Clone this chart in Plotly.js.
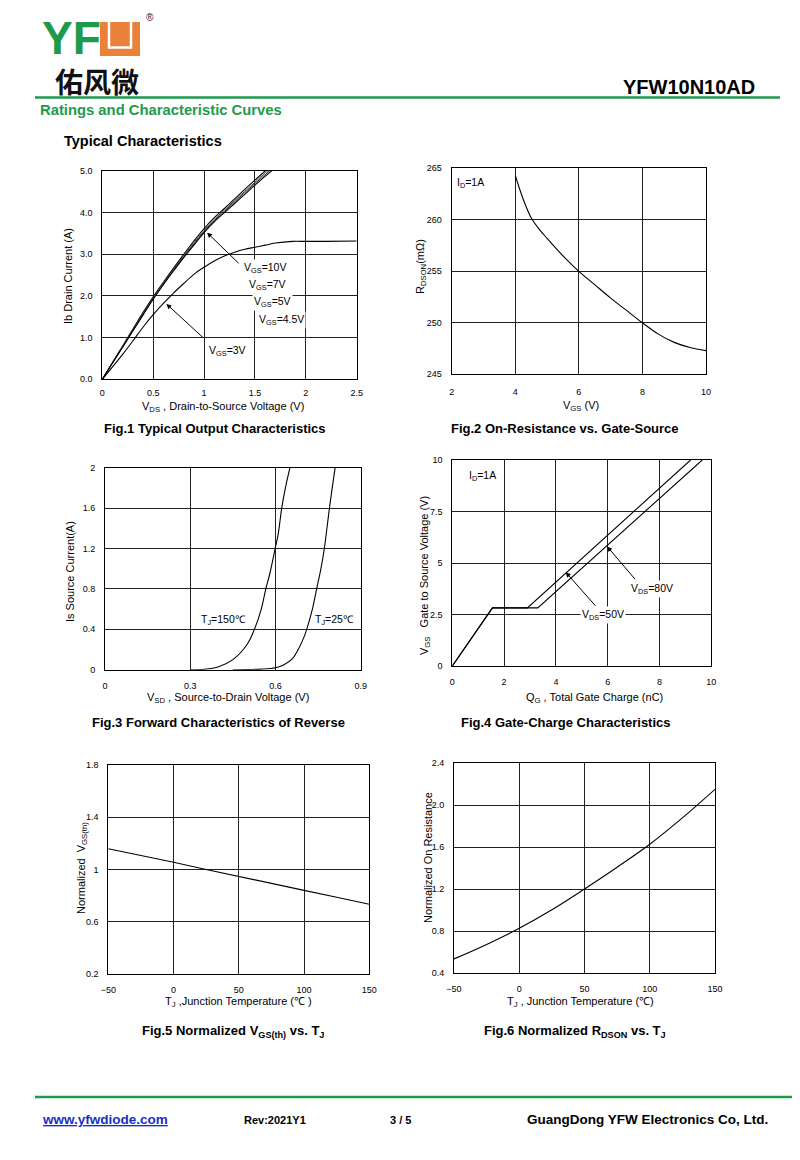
<!DOCTYPE html>
<html>
<head>
<meta charset="utf-8">
<script src="https://cdn.plot.ly/plotly-3.0.1.min.js"></script>
<style>html,body{margin:0;padding:0;background:#fff;}#page{width:800px;height:1160px;}</style>
</head>
<body>
<div id="page"></div>
<script>
// ---------- DATA ----------
// Fig.1 Typical Output Characteristics
const fig1Vds = [0,0.1,0.2,0.3,0.4,0.5,0.6,0.7,0.8,0.9,1.0,1.1,1.2,1.3,1.4,1.5,1.6,1.7];
const fig1Id10 = [0,0.40,0.80,1.20,1.60,1.98,2.33,2.67,3.00,3.32,3.62,3.88,4.10,4.33,4.56,4.78,5.00,5.20];
const fig1Id7  = [0,0.40,0.79,1.19,1.58,1.96,2.31,2.64,2.97,3.28,3.58,3.84,4.06,4.29,4.51,4.73,4.95,5.16];
const fig1Id5  = [0,0.39,0.78,1.17,1.56,1.94,2.29,2.62,2.94,3.25,3.55,3.81,4.03,4.26,4.48,4.70,4.91,5.12];
const fig1Id45 = [0,0.39,0.77,1.16,1.54,1.92,2.27,2.60,2.92,3.22,3.52,3.78,4.00,4.22,4.44,4.66,4.87,5.08];
const fig1Vds3 = [0,0.1,0.2,0.3,0.4,0.5,0.6,0.7,0.8,0.9,1.0,1.1,1.2,1.3,1.4,1.5,1.6,1.7,1.87,2.0,2.2,2.5];
const fig1Id3  = [0,0.30,0.60,0.92,1.25,1.55,1.82,2.07,2.30,2.52,2.69,2.84,2.96,3.05,3.12,3.17,3.22,3.27,3.31,3.31,3.31,3.32];
const fig1XTicks = [0,0.5,1,1.5,2,2.5];
const fig1XLabels = ['0','0.5','1','1.5','2','2.5'];
const fig1YTicks = [0,1,2,3,4,5];
const fig1YLabels = ['0.0','1.0','2.0','3.0','4.0','5.0'];

// Fig.2 On-Resistance vs. Gate-Source
const fig2Vgs = [4,4.25,4.5,4.75,5,5.5,6,6.5,7,7.5,8,8.5,9,9.5,10];
const fig2Rds = [264.3,262.0,260.2,259.1,258.2,256.5,255.0,253.7,252.4,251.2,250.0,248.9,248.1,247.6,247.3];

// Fig.3 Forward Characteristics of Reverse
const fig3Vsd150 = [0.30,0.35,0.40,0.45,0.50,0.526,0.55,0.566,0.58,0.599,0.61,0.622,0.635,0.651];
const fig3Is150  = [0,0.005,0.03,0.10,0.25,0.40,0.60,0.80,0.95,1.20,1.35,1.60,1.80,2.00];
const fig3Vsd25  = [0.45,0.50,0.55,0.60,0.63,0.66,0.68,0.70,0.71,0.73,0.745,0.76,0.772,0.79,0.81];
const fig3Is25   = [0,0.002,0.006,0.02,0.05,0.11,0.20,0.32,0.40,0.60,0.80,1.00,1.20,1.60,2.00];
const fig3XTicks = [0,0.3,0.6,0.9];
const fig3XLabels = ['0','0.3','0.6','0.9'];
const fig3YTicks = [0,0.4,0.8,1.2,1.6,2];

// Fig.4 Gate-Charge Characteristics
const fig4Qg50  = [0,1.55,2.9,9.2];
const fig4Vgs50 = [0,2.82,2.82,10];
const fig4Qg80  = [0,1.55,3.3,9.65];
const fig4Vgs80 = [0,2.82,2.82,10];
const fig4YTicks = [0,2.5,5,7.5,10];

// Fig.5 Normalized VGS(th) vs. TJ
const fig5Tj  = [-50,-25,0,25,50,75,100,125,150];
const fig5Vth = [1.158,1.107,1.054,0.999,0.944,0.891,0.839,0.786,0.732];
const fig5YTicks = [0.2,0.6,1,1.4,1.8];

// Fig.6 Normalized RDSON vs. TJ
const fig6Tj = [-50,-25,0,25,50,75,100,125,150];
const fig6Rn = [0.537,0.675,0.829,1.005,1.203,1.410,1.629,1.880,2.152];
const fig6YTicks = [0.4,0.8,1.2,1.6,2.0,2.4];
const fig6YLabels = ['0.4','0.8','1.2','1.6','2.0','2.4'];
const tempTicks = [-50,0,50,100,150];

// ---------- LAYOUT HELPERS ----------
const F = 'Liberation Sans, Arial, Helvetica, sans-serif';
const W = 800, H = 1160;
const px = x => x / W;
const py = y => 1 - y / H;
const dom = (l, r, t, b) => ({x: [px(l), px(r)], y: [py(b), py(t)]});

const boxes = [
  dom(102.3, 356.7, 171.0, 379.3),
  dom(451.7, 706.0, 168.3, 374.3),
  dom(105.0, 360.7, 467.7, 669.7),
  dom(452.3, 711.3, 460.0, 666.0),
  dom(108.3, 369.3, 765.0, 973.7),
  dom(454.0, 715.0, 763.3, 973.3)
];

function axisBase(extra) {
  return Object.assign({
    showgrid: true, gridcolor: '#222', gridwidth: 1,
    showline: true, linecolor: '#000', linewidth: 1, mirror: true,
    zeroline: false, ticks: '', fixedrange: true,
    tickfont: {family: F, size: 9, color: '#000'}
  }, extra);
}

const lineStyle = {color: '#000', width: 1.1};
const traces = [
  {x: fig1Vds, y: fig1Id10, xaxis: 'x', yaxis: 'y', mode: 'lines', line: Object.assign({shape: 'spline'}, lineStyle), name: 'VGS=10V'},
  {x: fig1Vds, y: fig1Id7, xaxis: 'x', yaxis: 'y', mode: 'lines', line: {shape: 'spline', color: '#444', width: 1}, name: 'VGS=7V'},
  {x: fig1Vds, y: fig1Id5, xaxis: 'x', yaxis: 'y', mode: 'lines', line: {shape: 'spline', color: '#333', width: 1}, name: 'VGS=5V'},
  {x: fig1Vds, y: fig1Id45, xaxis: 'x', yaxis: 'y', mode: 'lines', line: Object.assign({shape: 'spline'}, lineStyle), name: 'VGS=4.5V'},
  {x: fig1Vds3, y: fig1Id3, xaxis: 'x', yaxis: 'y', mode: 'lines', line: Object.assign({shape: 'spline'}, lineStyle), name: 'VGS=3V'},
  {x: fig2Vgs, y: fig2Rds, xaxis: 'x2', yaxis: 'y2', mode: 'lines', line: Object.assign({shape: 'spline'}, lineStyle), name: 'RDSON'},
  {x: fig3Vsd150, y: fig3Is150, xaxis: 'x3', yaxis: 'y3', mode: 'lines', line: Object.assign({shape: 'spline'}, lineStyle), name: 'TJ=150'},
  {x: fig3Vsd25, y: fig3Is25, xaxis: 'x3', yaxis: 'y3', mode: 'lines', line: Object.assign({shape: 'spline'}, lineStyle), name: 'TJ=25'},
  {x: fig4Qg50, y: fig4Vgs50, xaxis: 'x4', yaxis: 'y4', mode: 'lines', line: lineStyle, name: 'VDS=50V'},
  {x: fig4Qg80, y: fig4Vgs80, xaxis: 'x4', yaxis: 'y4', mode: 'lines', line: lineStyle, name: 'VDS=80V'},
  {x: fig5Tj, y: fig5Vth, xaxis: 'x5', yaxis: 'y5', mode: 'lines', line: lineStyle, name: 'VGS(th)'},
  {x: fig6Tj, y: fig6Rn, xaxis: 'x6', yaxis: 'y6', mode: 'lines', line: Object.assign({shape: 'spline'}, lineStyle), name: 'RDSON norm'}
];

const XS = 5, YS = 7;
const layout = {
  width: W, height: H,
  margin: {l: 0, r: 0, t: 0, b: 0},
  paper_bgcolor: '#fff', plot_bgcolor: '#fff',
  showlegend: false,
  font: {family: F, color: '#000'},
  xaxis:  axisBase({domain: boxes[0].x, anchor: 'y',  range: [0, 2.5], tickvals: fig1XTicks, ticktext: fig1XLabels, ticklabelstandoff: XS}),
  yaxis:  axisBase({domain: boxes[0].y, anchor: 'x',  range: [0, 5], tickvals: fig1YTicks, ticktext: fig1YLabels, ticklabelstandoff: YS}),
  xaxis2: axisBase({domain: boxes[1].x, anchor: 'y2', range: [2, 10], dtick: 2, ticklabelstandoff: XS + 4}),
  yaxis2: axisBase({domain: boxes[1].y, anchor: 'x2', range: [245, 265], dtick: 5, ticklabelstandoff: YS}),
  xaxis3: axisBase({domain: boxes[2].x, anchor: 'y3', range: [0, 0.9], tickvals: fig3XTicks, ticktext: fig3XLabels, ticklabelstandoff: XS + 2}),
  yaxis3: axisBase({domain: boxes[2].y, anchor: 'x3', range: [0, 2], tickvals: fig3YTicks, ticklabelstandoff: YS}),
  xaxis4: axisBase({domain: boxes[3].x, anchor: 'y4', range: [0, 10], dtick: 2, ticklabelstandoff: XS + 2}),
  yaxis4: axisBase({domain: boxes[3].y, anchor: 'x4', range: [0, 10], tickvals: fig4YTicks, ticklabelstandoff: YS}),
  xaxis5: axisBase({domain: boxes[4].x, anchor: 'y5', range: [-50, 150], tickvals: tempTicks, ticklabelstandoff: XS + 2}),
  yaxis5: axisBase({domain: boxes[4].y, anchor: 'x5', range: [0.2, 1.8], tickvals: fig5YTicks, ticklabelstandoff: YS}),
  xaxis6: axisBase({domain: boxes[5].x, anchor: 'y6', range: [-50, 150], tickvals: tempTicks, ticklabelstandoff: XS + 2}),
  yaxis6: axisBase({domain: boxes[5].y, anchor: 'x6', range: [0.4, 2.4], tickvals: fig6YTicks, ticktext: fig6YLabels, ticklabelstandoff: YS}),
  shapes: [],
  annotations: []
};

// ---------- PAGE SHAPES ----------
const GREEN = '#1f9a4c';
layout.shapes.push(
  {type: 'line', xref: 'paper', yref: 'paper', x0: px(35), x1: px(780), y0: py(97.5), y1: py(97.5), line: {color: GREEN, width: 2.5}},
  {type: 'line', xref: 'paper', yref: 'paper', x0: px(35), x1: px(792), y0: py(1097), y1: py(1097), line: {color: GREEN, width: 2.5}},
  // orange logo block with white U
  {type: 'rect', xref: 'paper', yref: 'paper', x0: px(100), x1: px(140), y0: py(56), y1: py(22), fillcolor: '#e9813b', line: {width: 0}},
  {type: 'path', xref: 'paper', yref: 'paper',
   path: `M ${px(109)} ${py(22)} L ${px(109)} ${py(47.5)} L ${px(131)} ${py(47.5)} L ${px(131)} ${py(22)}`,
   line: {color: '#fff', width: 2.5}}
);

// ---------- TEXT ----------
const A = layout.annotations;
function txt(text, x, y, o) {
  A.push(Object.assign({xref: 'paper', yref: 'paper', x: px(x), y: py(y), text: text, showarrow: false,
    xanchor: 'center', yanchor: 'middle', font: {family: F, size: 11, color: '#000'}}, o || {}));
}
// header
txt('<b>YF</b>', 40, 38, {xanchor: 'left', font: {family: F, size: 46, color: GREEN}});
txt('®', 150, 18, {font: {family: F, size: 10, color: '#222'}});
txt('<b>佑风微</b>', 97, 81, {font: {family: 'Noto Sans CJK SC, sans-serif', size: 28, color: '#111'}});
txt('<b>YFW10N10AD</b>', 757, 87, {xanchor: 'right', font: {family: F, size: 20, color: '#000'}});
txt('<b>Ratings and Characteristic Curves</b>', 38, 110, {xanchor: 'left', font: {family: F, size: 14.8, color: GREEN}});
txt('<b>Typical Characteristics</b>', 62, 141, {xanchor: 'left', font: {family: F, size: 14.5, color: '#000'}});

// captions
const capFont = {family: F, size: 13, color: '#000'};
txt('<b>Fig.1 Typical Output Characteristics</b>', 215, 429, {font: capFont});
txt('<b>Fig.2 On-Resistance vs. Gate-Source</b>', 565, 429, {font: capFont});
txt('<b>Fig.3 Forward Characteristics of Reverse</b>', 218, 722, {font: capFont});
txt('<b>Fig.4 Gate-Charge Characteristics</b>', 566, 722, {font: capFont});
txt('<b>Fig.5 Normalized V<sub>GS(th)</sub> vs. T<sub>J</sub></b>', 233, 1031, {font: capFont});
txt('<b>Fig.6 Normalized R<sub>DSON</sub> vs. T<sub>J</sub></b>', 575, 1031, {font: capFont});

// axis titles
const atFont = {family: F, size: 11, color: '#000'};
txt('V<sub>DS</sub> , Drain-to-Source Voltage (V)', 223, 407, {font: atFont});
txt('Ib Drain Current (A)', 68, 276, {textangle: -90, font: atFont});
txt('V<sub>GS</sub> (V)', 581, 406, {font: atFont});
txt('R<sub>DSON</sub>(mΩ)', 421, 267, {textangle: -90, font: atFont});
txt('V<sub>SD</sub> , Source-to-Drain Voltage (V)', 228, 698, {font: atFont});
txt('Is Source Current(A)', 70, 572, {textangle: -90, font: atFont});
txt('Q<sub>G</sub> , Total Gate Charge (nC)', 594, 698, {font: atFont});
txt('V<sub>GS</sub>   Gate to Source Voltage (V)', 425, 576, {textangle: -90, font: atFont});
txt('T<sub>J</sub> ,Junction Temperature (℃ )', 238, 1002, {font: atFont});
txt('Normalized  V<sub>GS(th)</sub>', 82, 868, {textangle: -90, font: atFont});
txt('T<sub>J</sub> , Junction Temperature (℃)', 580, 1002, {font: atFont});
txt('Normalized On Resistance', 428, 858, {textangle: -90, font: atFont});

// in-plot labels
const lbFont = {family: F, size: 10.5, color: '#000'};
const lbl = (t, x, y, o) => txt(t, x, y, Object.assign({xanchor: 'left', font: lbFont}, o || {}));
lbl('V<sub>GS</sub>=10V', 242, 268, {bgcolor: '#fff'});
lbl('V<sub>GS</sub>=7V', 247, 285, {bgcolor: '#fff'});
lbl('V<sub>GS</sub>=5V', 252, 302, {bgcolor: '#fff'});
lbl('V<sub>GS</sub>=4.5V', 257, 320, {bgcolor: '#fff'});
lbl('V<sub>GS</sub>=3V', 207, 351, {bgcolor: '#fff'});
lbl('I<sub>D</sub>=1A', 455, 183);
lbl('T<sub>J</sub>=150℃', 199, 620, {bgcolor: '#fff'});
lbl('T<sub>J</sub>=25℃', 313, 620, {bgcolor: '#fff'});
lbl('I<sub>D</sub>=1A', 467, 476);
lbl('V<sub>DS</sub>=80V', 629, 589, {bgcolor: '#fff'});
lbl('V<sub>DS</sub>=50V', 580, 615, {bgcolor: '#fff'});

// arrows (head on the curve, in data coordinates)
function arrow(xr, yr, x, y, ax, ay) {
  A.push({xref: xr, yref: yr, x: x, y: y, ax: ax, ay: ay, text: '', showarrow: true,
    arrowhead: 2, arrowsize: 1, arrowwidth: 1, arrowcolor: '#000'});
}
arrow('x', 'y', 1.03, 3.52, 33, 32);
arrow('x', 'y', 0.63, 1.81, 38, 35);
arrow('x4', 'y4', 5.98, 5.80, 29, 34);
arrow('x4', 'y4', 4.38, 4.55, 31, 35);

// footer
txt('<b><u>www.yfwdiode.com</u></b>', 40, 1119, {xanchor: 'left', font: {family: F, size: 13.5, color: '#1530c8'}});
txt('<b>Rev:2021Y1</b>', 242, 1120, {xanchor: 'left', font: {family: F, size: 11, color: '#000'}});
txt('<b>3 / 5</b>', 388, 1120, {xanchor: 'left', font: {family: F, size: 11, color: '#000'}});
txt('<b>GuangDong YFW Electronics Co, Ltd.</b>', 770, 1119, {xanchor: 'right', font: {family: F, size: 13.5, color: '#000'}});

Plotly.newPlot('page', traces, layout, {staticPlot: true, displayModeBar: false});
</script>
</body>
</html>
